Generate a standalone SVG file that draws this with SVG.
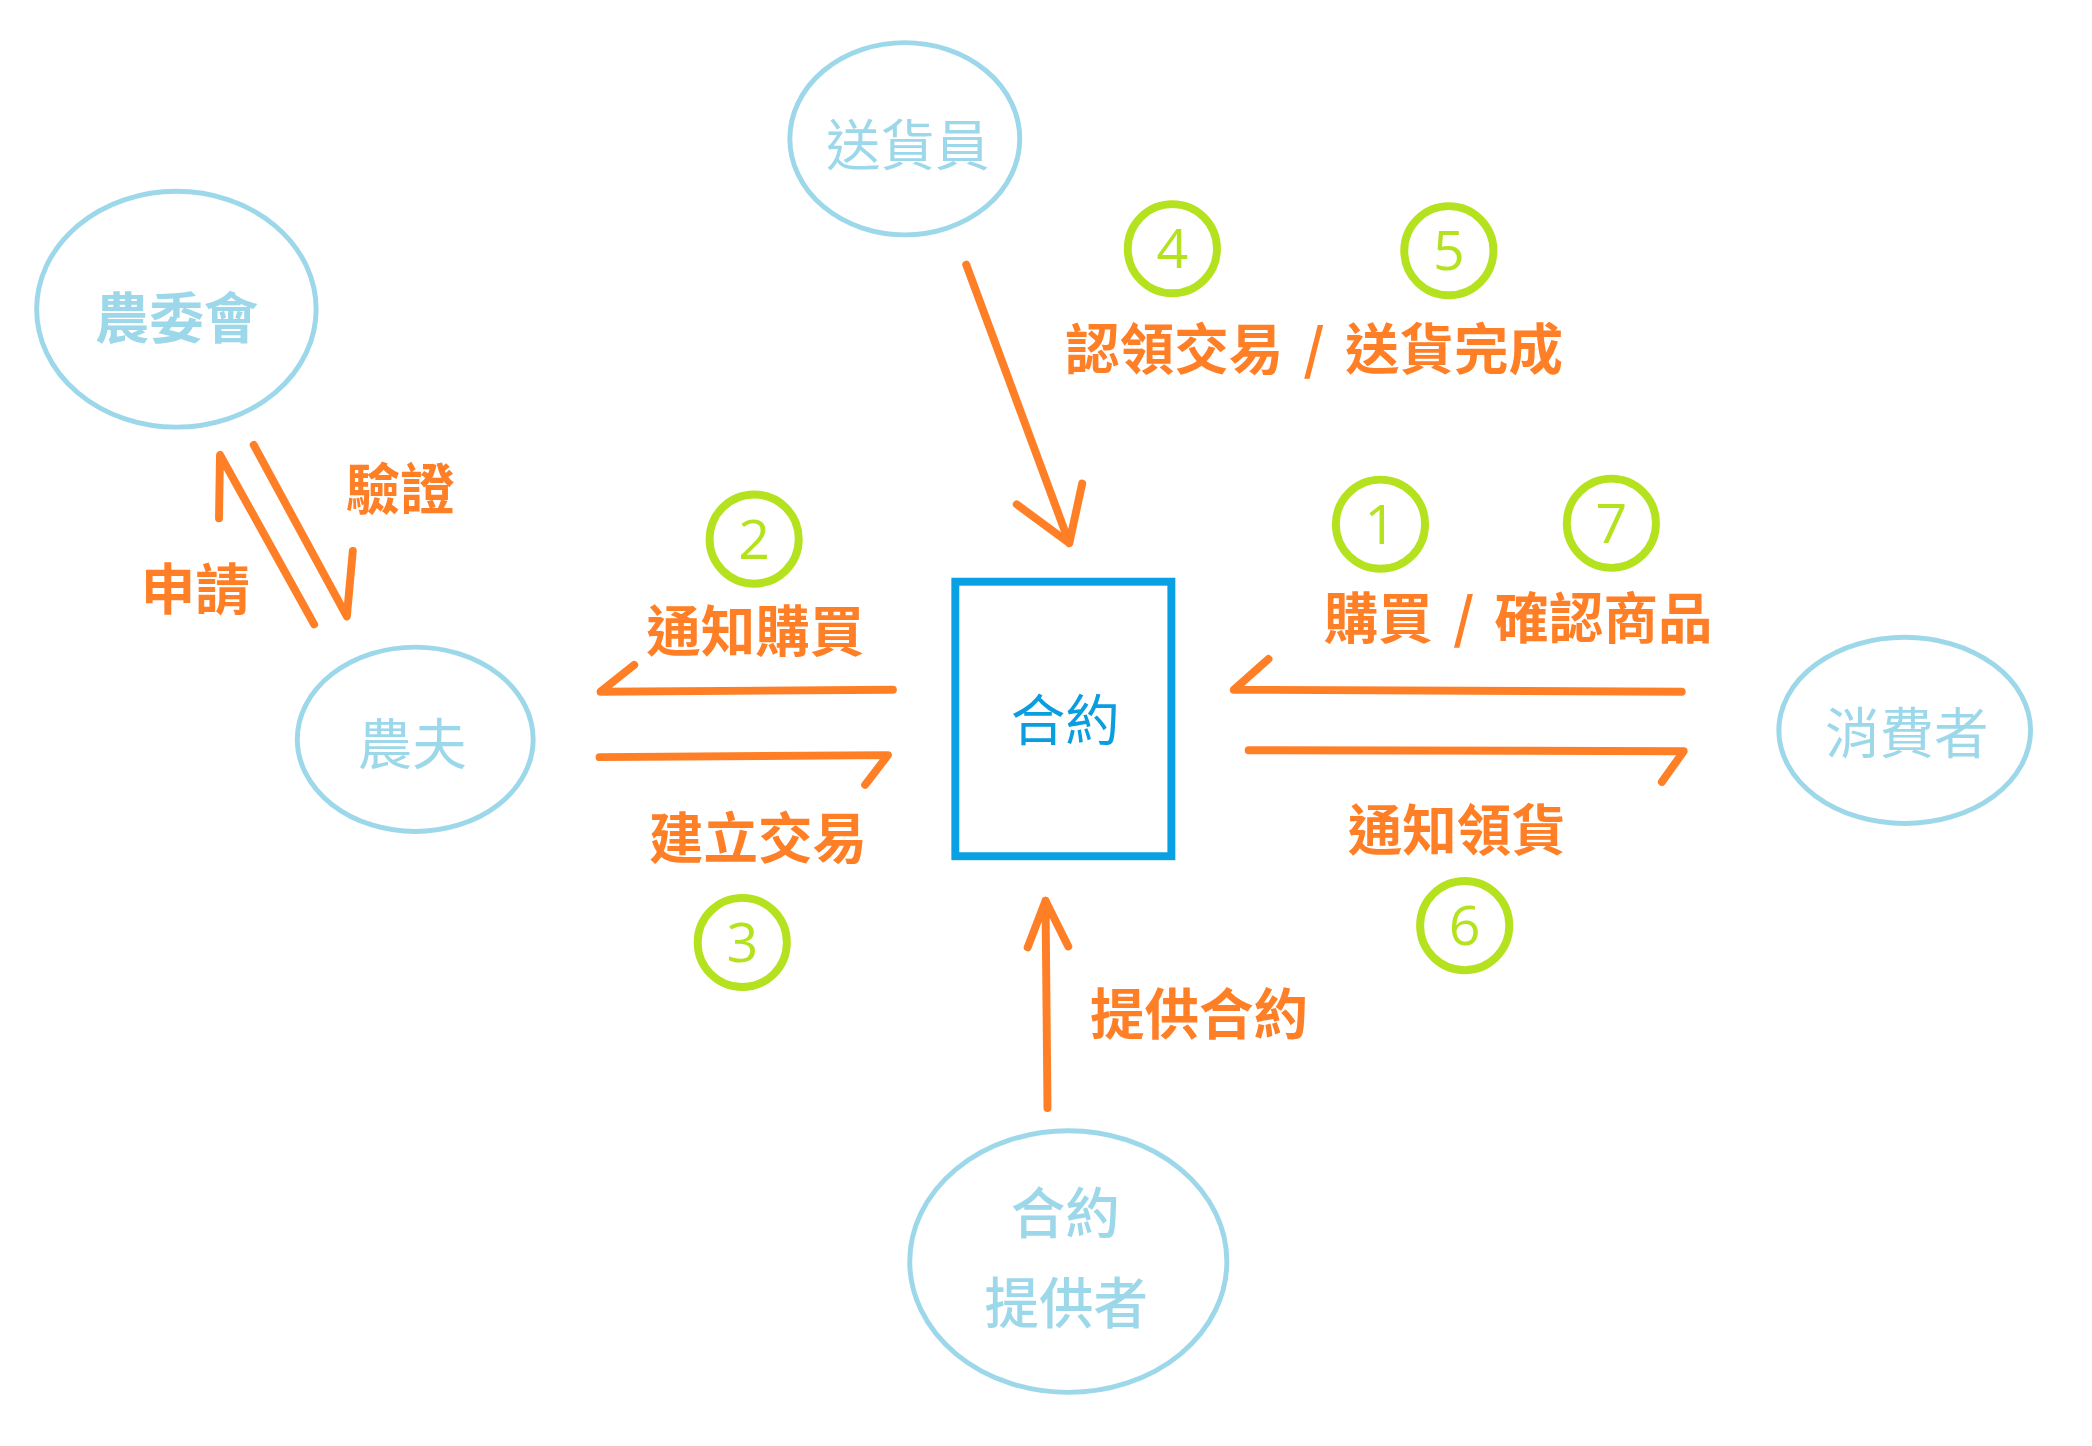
<svg xmlns="http://www.w3.org/2000/svg" width="2092" height="1446" viewBox="0 0 2092 1446">
<style>
.node{fill:none;stroke:#9dd8ea;stroke-width:5}
.nt{fill:#9dd8ea;font-family:"Noto Sans CJK TC","Noto Sans CJK SC",sans-serif;font-size:55px;text-anchor:middle;dominant-baseline:central}
.arr{fill:none;stroke:#ff7f27;stroke-width:8;stroke-linecap:round;stroke-linejoin:round}
.lb{fill:#ff7f27;font-family:"Noto Sans CJK TC","Noto Sans CJK SC",sans-serif;font-size:55px;font-weight:bold;text-anchor:middle;dominant-baseline:central}
.sl{word-spacing:8px}
.num{fill:none;stroke:#b5e21e;stroke-width:8}
.nn{fill:#b5e21e;font-family:"Open Sans","Noto Sans",sans-serif;font-size:56px;text-anchor:middle;dominant-baseline:central}
</style>
<rect width="2092" height="1446" fill="#ffffff"/>
<g transform="scale(0.991)">
<g id="connectors">
<path class="arr" d="M975,267 L1079,548 M1026,509 L1079,548 L1092,488"/>
<path class="arr" d="M317,630 L222,459 L221,523"/>
<path class="arr" d="M256,449 L350,622 L356,556"/>
<path class="arr" d="M901,696 L606,698 L640,671"/>
<path class="arr" d="M605,764 L896,762 L873,792"/>
<path class="arr" d="M1697,698 L1245,696 L1280,665"/>
<path class="arr" d="M1260,757 L1699,758 L1677,789"/>
<path class="arr" d="M1057,1118 L1055,909 M1037,956 L1055,909 L1078,955"/>
</g>
<g id="labels">
<text class="lb sl" x="1326" y="349">認領交易 / 送貨完成</text>
<text class="lb" x="404" y="490">驗證</text>
<text class="lb" x="197" y="591">申請</text>
<text class="lb" x="762" y="633">通知購買</text>
<text class="lb" x="765" y="842">建立交易</text>
<text class="lb sl" x="1532" y="620">購買 / 確認商品</text>
<text class="lb" x="1470" y="834">通知領貨</text>
<text class="lb" x="1210" y="1020">提供合約</text>
</g>
<g id="steps">
<g id="step4"><circle class="num" cx="1183" cy="251" r="45"/><text class="nn" x="1183" y="249">4</text></g>
<g id="step5"><circle class="num" cx="1462" cy="253" r="45"/><text class="nn" x="1462" y="251">5</text></g>
<g id="step2"><circle class="num" cx="761" cy="544" r="45"/><text class="nn" x="761" y="542">2</text></g>
<g id="step3"><circle class="num" cx="749" cy="951" r="45"/><text class="nn" x="749" y="949">3</text></g>
<g id="step1"><circle class="num" cx="1393" cy="529" r="45"/><text class="nn" x="1393" y="527">1</text></g>
<g id="step7"><circle class="num" cx="1626" cy="528" r="45"/><text class="nn" x="1626" y="526">7</text></g>
<g id="step6"><circle class="num" cx="1478" cy="934" r="45"/><text class="nn" x="1478" y="932">6</text></g>
</g>
<g id="deliverer"><ellipse class="node" cx="913" cy="140" rx="116" ry="97"/><text class="nt" x="916" y="143">送貨員</text></g>
<g id="coa"><ellipse class="node" cx="178" cy="312" rx="141" ry="119"/><text class="nt" x="178" y="317" font-weight="bold">農委會</text></g>
<g id="farmer"><ellipse class="node" cx="419" cy="746" rx="119" ry="93"/><text class="nt" x="416" y="747">農夫</text></g>
<g id="consumer"><ellipse class="node" cx="1922" cy="737" rx="127" ry="94"/><text class="nt" x="1924" y="736">消費者</text></g>
<g id="provider"><ellipse class="node" cx="1078" cy="1273" rx="160" ry="132"/><text class="nt" x="1075" y="1220" font-weight="500">合約</text><text class="nt" x="1076" y="1311" font-weight="500">提供者</text></g>
<g id="contract"><rect x="964" y="587" width="218" height="277" fill="none" stroke="#0aa0e4" stroke-width="8"/><text class="nt" x="1075" y="723" style="fill:#0a9ee0">合約</text></g>
</g>
</svg>
